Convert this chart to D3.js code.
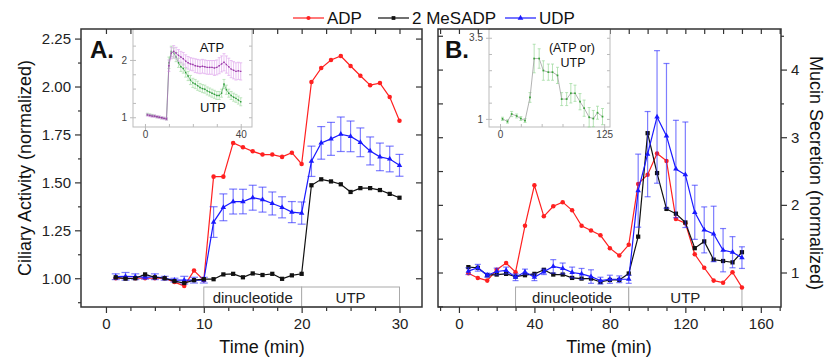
<!DOCTYPE html>
<html>
<head>
<meta charset="utf-8">
<script src="https://cdn.jsdelivr.net/npm/d3@7"></script>
<style>
  body { margin: 0; background: #fff; }
  text { font-family: "Liberation Sans", Arial, sans-serif; }
</style>
</head>
<body>
<script>
// ---- data, panel A (ciliary activity, 1..30 min) ----
const timeA = d3.range(1, 31);
const adpA = [1.00, 1.00, 1.00, 1.00, 1.00, 1.00, 0.98, 0.96, 1.04, 0.99,
  1.53, 1.53, 1.706, 1.683, 1.662, 1.645, 1.645, 1.633, 1.655, 1.596,
  2.023, 2.096, 2.138, 2.159, 2.107, 2.056, 2.007, 2.018, 1.945, 1.821];
const mesadpA = [1.005, 0.998, 1.00, 1.02, 1.005, 1.00, 0.985, 0.975, 0.99, 0.995,
  0.995, 1.02, 1.023, 1.005, 1.025, 1.017, 1.023, 0.997, 1.015, 1.023,
  1.485, 1.516, 1.505, 1.49, 1.45, 1.47, 1.47, 1.46, 1.44, 1.42];
const udpA = [1.008, 1.01, 1.008, 1.005, 1.008, 1.00, 0.99, 0.99, 0.99, 0.99,
  1.293, 1.37, 1.40, 1.40, 1.42, 1.41, 1.39, 1.37, 1.345, 1.34,
  1.61, 1.706, 1.727, 1.751, 1.74, 1.709, 1.664, 1.633, 1.622, 1.589];
const udpErrA = [0.015, 0.02, 0.015, 0.01, 0.015, 0.01, 0.01, 0.02, 0.015, 0.015,
  0.08, 0.07, 0.065, 0.064, 0.065, 0.065, 0.06, 0.055, 0.055, 0.058,
  0.079, 0.085, 0.086, 0.09, 0.08, 0.075, 0.073, 0.072, 0.067, 0.057];

// ---- data, panel B (mucin secretion, 5..150 min) ----
const timeB = d3.range(5, 155, 5);
const adpB = [0.99, 0.92, 0.88, 1.04, 1.14, 1.005, 1.69, 2.29, 1.83, 1.98,
  2.04, 1.92, 1.69, 1.62, 1.55, 1.36, 1.25, 1.41, 2.31, 2.445,
  2.76, 2.65, 1.79, 1.73, 1.27, 1.07, 0.88, 0.85, 1.005, 0.78];
const mesadpB = [1.08, 1.07, 0.96, 0.97, 0.98, 0.94, 0.96, 0.98, 1.04, 0.97,
  0.97, 0.92, 0.91, 0.91, 0.86, 0.89, 0.89, 0.985, 1.53, 3.06,
  2.47, 1.94, 1.87, 1.74, 1.36, 1.46, 1.19, 1.17, 1.15, 1.30];
const udpB = [1.02, 1.07, 0.96, 1.015, 1.03, 0.93, 1.01, 0.93, 1.01, 1.09,
  1.06, 1.00, 0.98, 0.94, 0.88, 0.90, 0.90, 0.90, 2.21, 2.75,
  3.30, 3.02, 2.53, 2.445, 1.89, 1.63, 1.57, 1.33, 1.30, 1.22];
const udpErrB = [0.05, 0.05, 0.03, 0.05, 0.05, 0.05, 0.04, 0.05, 0.04, 0.10,
  0.08, 0.08, 0.08, 0.10, 0.05, 0.06, 0.05, 0.06, 0.54, 0.63,
  0.98, 1.07, 0.72, 0.78, 0.40, 0.34, 0.41, 0.32, 0.23, 0.16];

// ---- inset A (ATP / UTP) ----
const timeInA = d3.range(1, 41);
const atpIn = [1.04, 1.03, 1.02, 1.02, 1.01, 1.00, 0.99, 0.98, 0.97, 1.90,
  2.12, 2.15, 2.12, 2.08, 2.05, 2.02, 1.98, 1.95, 1.93, 1.92,
  1.90, 1.89, 1.88, 1.89, 1.88, 1.87, 1.87, 1.87, 1.86, 1.87,
  1.90, 1.93, 1.96, 1.92, 1.88, 1.84, 1.82, 1.80, 1.81, 1.80];
const atpErrIn = [0.02, 0.02, 0.02, 0.02, 0.02, 0.02, 0.02, 0.02, 0.02, 0.10,
  0.10, 0.10, 0.10, 0.10, 0.10, 0.11, 0.11, 0.11, 0.11, 0.11,
  0.12, 0.12, 0.12, 0.12, 0.12, 0.12, 0.12, 0.12, 0.13, 0.13,
  0.14, 0.14, 0.15, 0.15, 0.15, 0.15, 0.15, 0.15, 0.15, 0.15];
const utpIn = [1.05, 1.04, 1.03, 1.02, 1.01, 1.00, 0.99, 0.98, 0.97, 1.95,
  2.15, 2.12, 2.05, 1.95, 1.88, 1.85, 1.78, 1.72, 1.65, 1.60,
  1.58, 1.55, 1.52, 1.50, 1.49, 1.46, 1.44, 1.42, 1.40, 1.38,
  1.38, 1.42, 1.58, 1.48, 1.42, 1.38, 1.35, 1.33, 1.30, 1.27];
const utpErrIn = [0.02, 0.02, 0.02, 0.02, 0.02, 0.02, 0.02, 0.02, 0.02, 0.10,
  0.09, 0.09, 0.08, 0.08, 0.08, 0.08, 0.08, 0.08, 0.08, 0.08,
  0.08, 0.08, 0.07, 0.07, 0.07, 0.07, 0.07, 0.07, 0.07, 0.07,
  0.07, 0.07, 0.08, 0.08, 0.07, 0.07, 0.07, 0.07, 0.07, 0.07];

// ---- inset B (ATP or UTP) ----
const timeInB = [3, 9, 14, 20, 25, 30, 36, 41, 47, 52, 58, 63, 69, 74, 80, 85, 90, 96, 101, 107, 112, 117, 123];
const nucIn = [1.00, 0.92, 1.15, 1.09, 1.01, 0.95, 1.66, 2.86, 2.86, 2.49, 2.44, 2.44,
  2.34, 1.61, 1.61, 1.79, 1.79, 1.53, 1.33, 1.05, 1.01, 1.19, 1.07];
const nucErrIn = [0.05, 0.05, 0.08, 0.06, 0.06, 0.06, 0.15, 0.44, 0.30, 0.30, 0.25, 0.25,
  0.25, 0.20, 0.20, 0.30, 0.25, 0.25, 0.25, 0.30, 0.25, 0.20, 0.25];

const seriesNames = ["ADP", "2 MeSADP", "UDP"];
const seriesColors = ["#ff2020", "#111111", "#1a1aff"];
const seriesSymbols = [d3.symbolCircle, d3.symbolSquare, d3.symbolTriangle];

const W = 828, H = 360;
const svg = d3.select("body").append("svg").attr("width", W).attr("height", H);

const plotTop = 29, plotBottom = 307;
const xA = d3.scaleLinear().domain([-2.55, 32.3]).range([81, 422]);
const yA = d3.scaleLinear().domain([0.85, 2.30]).range([plotBottom, plotTop]);
const xB = d3.scaleLinear().domain([-11.1, 170.7]).range([438, 781]);
const yB = d3.scaleLinear().domain([0.49, 4.6]).range([plotBottom, plotTop]);

function styleAxis(g, size) {
  g.select(".domain").remove();
  g.selectAll(".tick line").attr("stroke", "#333").attr("stroke-width", 1.2);
  g.selectAll(".tick text").attr("font-size", size || 15).attr("fill", "#222")
    .attr("font-family", "Liberation Sans, Arial, sans-serif");
}

function addAxis(axis, tx, ty, size) {
  const g = svg.append("g").attr("transform", `translate(${tx},${ty})`).call(axis);
  styleAxis(g, size);
  return g;
}

// ---------- panel A axes ----------
addAxis(d3.axisLeft(yA).tickValues([1, 1.25, 1.5, 1.75, 2, 2.25]).tickFormat(d3.format(".2f")).tickSize(6).tickPadding(4), 81, 0);
addAxis(d3.axisLeft(yA).tickValues([0.875, 1.125, 1.375, 1.625, 1.875, 2.125]).tickFormat("").tickSize(3), 81, 0);
addAxis(d3.axisRight(yA).tickValues([1, 1.25, 1.5, 1.75, 2, 2.25]).tickFormat("").tickSize(-6), 422, 0);
addAxis(d3.axisBottom(xA).tickValues([0, 10, 20, 30]).tickSize(6).tickPadding(5), 0, plotBottom);
addAxis(d3.axisBottom(xA).tickValues([2.5, 5, 7.5, 12.5, 15, 17.5, 22.5, 25, 27.5]).tickFormat("").tickSize(4), 0, plotBottom);
addAxis(d3.axisTop(xA).tickValues(d3.range(0, 32.5, 2.5)).tickFormat("").tickSize(-5), 0, plotTop);

// ---------- panel B axes ----------
addAxis(d3.axisRight(yB).tickValues([1, 2, 3, 4]).tickFormat(d3.format("d")).tickSize(6).tickPadding(4), 781, 0);
addAxis(d3.axisRight(yB).tickValues([1.5, 2.5, 3.5, 4.5]).tickFormat("").tickSize(3), 781, 0);
addAxis(d3.axisLeft(yB).tickValues(d3.range(0.5, 4.6, 0.5)).tickFormat("").tickSize(-5), 438, 0);
addAxis(d3.axisBottom(xB).tickValues([0, 40, 80, 120, 160]).tickSize(6).tickPadding(5), 0, plotBottom);
addAxis(d3.axisBottom(xB).tickValues(d3.range(-10, 171, 10).filter(d => d % 40 !== 0)).tickFormat("").tickSize(4), 0, plotBottom);
addAxis(d3.axisTop(xB).tickValues(d3.range(-10, 171, 10)).tickFormat("").tickSize(-5), 0, plotTop);

// stimulus boxes
function stimBox(x, a, b, c, label1, label2) {
  const g = svg.append("g");
  g.append("rect").attr("x", x(a)).attr("y", 287).attr("width", x(b) - x(a)).attr("height", plotBottom - 287)
    .attr("fill", "#fff").attr("stroke", "#aaa").attr("stroke-width", 1);
  g.append("rect").attr("x", x(b)).attr("y", 287).attr("width", x(c) - x(b)).attr("height", plotBottom - 287)
    .attr("fill", "#fff").attr("stroke", "#aaa").attr("stroke-width", 1);
  g.append("text").attr("x", (x(a) + x(b)) / 2).attr("y", 303).attr("text-anchor", "middle")
    .attr("font-size", 15).attr("fill", "#222").text(label1);
  g.append("text").attr("x", (x(b) + x(c)) / 2).attr("y", 303).attr("text-anchor", "middle")
    .attr("font-size", 15).attr("fill", "#222").text(label2);
}
stimBox(xA, 10, 20, 30, "dinucleotide", "UTP");
stimBox(xB, 30, 90, 150, "dinucleotide", "UTP");

// ---------- insets ----------
const xiA = d3.scaleLinear().domain([-5, 44.7]).range([133, 252]);
const yiA = d3.scaleLinear().domain([0.83, 2.54]).range([127, 29]);
const xiB = d3.scaleLinear().domain([-13.2, 132]).range([489, 610]);
const yiB = d3.scaleLinear().domain([0.75, 3.77]).range([127, 29]);

function insetFrame(x, y, xt, yt, yMinor, xMinor) {
  const [x0, x1] = x.range(), [y0, y1] = y.range();
  svg.append("rect").attr("x", x0).attr("y", y1).attr("width", x1 - x0).attr("height", y0 - y1)
    .attr("fill", "#fff").attr("stroke", "#bbb").attr("stroke-width", 1);
  const ga = svg.append("g").attr("transform", `translate(${x0},0)`)
    .call(d3.axisLeft(y).tickValues(yt).tickFormat(d => d).tickSize(3).tickPadding(3));
  const gm = svg.append("g").attr("transform", `translate(${x0},0)`)
    .call(d3.axisRight(y).tickValues(yMinor).tickFormat("").tickSize(3));
  const gr = svg.append("g").attr("transform", `translate(${x1},0)`)
    .call(d3.axisLeft(y).tickValues(yMinor).tickFormat("").tickSize(3));
  const gb = svg.append("g").attr("transform", `translate(0,${y0})`)
    .call(d3.axisBottom(x).tickValues(xt).tickSize(3).tickPadding(1));
  const gbm = svg.append("g").attr("transform", `translate(0,${y0})`)
    .call(d3.axisTop(x).tickValues(xMinor).tickFormat("").tickSize(3));
  [ga, gm, gr, gb, gbm].forEach(g => {
    g.select(".domain").remove();
    g.selectAll(".tick line").attr("stroke", "#bbb");
    g.selectAll(".tick text").attr("font-size", 10).attr("fill", "#444");
  });
}

function drawSeries(x, y, ts, vs, errs, opt) {
  const g = svg.append("g");
  const pts = ts.map((t, i) => ({ t, v: vs[i], e: errs ? errs[i] : 0 }));
  if (errs) {
    const cw = opt.cap;
    pts.forEach(p => {
      const xx = x(p.t);
      g.append("line").attr("x1", xx).attr("x2", xx).attr("y1", y(p.v - p.e)).attr("y2", y(p.v + p.e))
        .attr("stroke", opt.errColor).attr("stroke-width", opt.errWidth || 1.2);
      [p.v - p.e, p.v + p.e].forEach(v => g.append("line")
        .attr("x1", xx - cw / 2).attr("x2", xx + cw / 2).attr("y1", y(v)).attr("y2", y(v))
        .attr("stroke", opt.errColor).attr("stroke-width", opt.errWidth || 1.2));
    });
  }
  g.append("path").datum(pts)
    .attr("d", d3.line().x(d => x(d.t)).y(d => y(d.v)))
    .attr("fill", "none").attr("stroke", opt.lineColor || opt.color).attr("stroke-width", opt.lw || 1.2);
  g.selectAll("path.m").data(pts).join("path").attr("class", "m")
    .attr("transform", d => `translate(${x(d.t)},${y(d.v)})`)
    .attr("d", d3.symbol().type(opt.symbol).size(opt.size))
    .attr("fill", opt.color);
}

insetFrame(xiA, yiA, [0, 40], [1, 2], d3.range(1, 2.5, 0.25), d3.range(0, 41, 10));
drawSeries(xiA, yiA, timeInA, utpIn, utpErrIn,
  { color: "#2e9b3a", lineColor: "#55b060", errColor: "#a8dca8", cap: 3, errWidth: 0.7, symbol: d3.symbolSquare, size: 2, lw: 0.7 });
drawSeries(xiA, yiA, timeInA, atpIn, atpErrIn,
  { color: "#9b3aa8", lineColor: "#b060c0", errColor: "#e0a8ec", cap: 3, errWidth: 0.7, symbol: d3.symbolSquare, size: 2, lw: 0.7 });
svg.append("text").attr("x", 212).attr("y", 52).attr("text-anchor", "middle").attr("font-size", 13).attr("fill", "#111").text("ATP");
svg.append("text").attr("x", 213).attr("y", 112).attr("text-anchor", "middle").attr("font-size", 13).attr("fill", "#111").text("UTP");

insetFrame(xiB, yiB, [0, 125], [1, 3.5], d3.range(1, 3.6, 0.5), d3.range(0, 126, 25));
drawSeries(xiB, yiB, timeInB, nucIn, nucErrIn,
  { color: "#3aa43a", lineColor: "#a0a0a0", errColor: "#9ad89a", cap: 3, errWidth: 0.7, symbol: d3.symbolSquare, size: 3, lw: 0.8 });
svg.append("text").attr("x", 572).attr("y", 52).attr("text-anchor", "middle").attr("font-size", 12.5).attr("fill", "#111").text("(ATP or)");
svg.append("text").attr("x", 573).attr("y", 67).attr("text-anchor", "middle").attr("font-size", 12.5).attr("fill", "#111").text("UTP");

// ---------- main series ----------
const optR = { color: seriesColors[0], symbol: seriesSymbols[0], size: 16 };
const optK = { color: seriesColors[1], symbol: seriesSymbols[1], size: 18 };
const optBA = { color: seriesColors[2], symbol: seriesSymbols[2], size: 13, errColor: "rgba(40,40,255,0.6)", cap: 8 };
const optBB = { color: seriesColors[2], symbol: seriesSymbols[2], size: 13, errColor: "rgba(40,40,255,0.6)", cap: 6 };

drawSeries(xA, yA, timeA, adpA, null, optR);
drawSeries(xA, yA, timeA, udpA, udpErrA, optBA);
drawSeries(xA, yA, timeA, mesadpA, null, optK);

drawSeries(xB, yB, timeB, adpB, null, optR);
drawSeries(xB, yB, timeB, mesadpB, null, optK);
drawSeries(xB, yB, timeB, udpB, udpErrB, optBB);

// frames
svg.append("rect").attr("x", 81).attr("y", plotTop).attr("width", 422 - 81).attr("height", plotBottom - plotTop)
  .attr("fill", "none").attr("stroke", "#333").attr("stroke-width", 1.5);
svg.append("rect").attr("x", 438).attr("y", plotTop).attr("width", 781 - 438).attr("height", plotBottom - plotTop)
  .attr("fill", "none").attr("stroke", "#333").attr("stroke-width", 1.5);

// panel letters
svg.append("text").attr("x", 90).attr("y", 58).attr("font-size", 24).attr("font-weight", "bold").attr("fill", "#111").text("A.");
svg.append("text").attr("x", 445).attr("y", 58).attr("font-size", 24).attr("font-weight", "bold").attr("fill", "#111").text("B.");

// axis titles
svg.append("text").attr("transform", "translate(31,168) rotate(-90)").attr("text-anchor", "middle")
  .attr("font-size", 18).attr("fill", "#111").text("Ciliary Activity (normalized)");
svg.append("text").attr("transform", "translate(810,173) rotate(90)").attr("text-anchor", "middle")
  .attr("font-size", 18).attr("fill", "#111").text("Mucin Secretion (normalized)");
svg.append("text").attr("x", 262).attr("y", 353).attr("text-anchor", "middle").attr("font-size", 18).attr("fill", "#111").text("Time (min)");
svg.append("text").attr("x", 609).attr("y", 353).attr("text-anchor", "middle").attr("font-size", 18).attr("fill", "#111").text("Time (min)");

// legend
const legendX = [293, 378, 505];
seriesNames.forEach((name, i) => {
  const g = svg.append("g").attr("transform", `translate(${legendX[i]},18)`);
  g.append("line").attr("x1", 0).attr("x2", 31).attr("stroke", seriesColors[i]).attr("stroke-width", 1.2);
  g.append("path").attr("transform", "translate(15.5,0)")
    .attr("d", d3.symbol().type(seriesSymbols[i]).size(14)).attr("fill", seriesColors[i]);
  g.append("text").attr("x", 34).attr("y", 6).attr("font-size", 17).attr("fill", "#111").text(name);
});
</script>
</body>
</html>
